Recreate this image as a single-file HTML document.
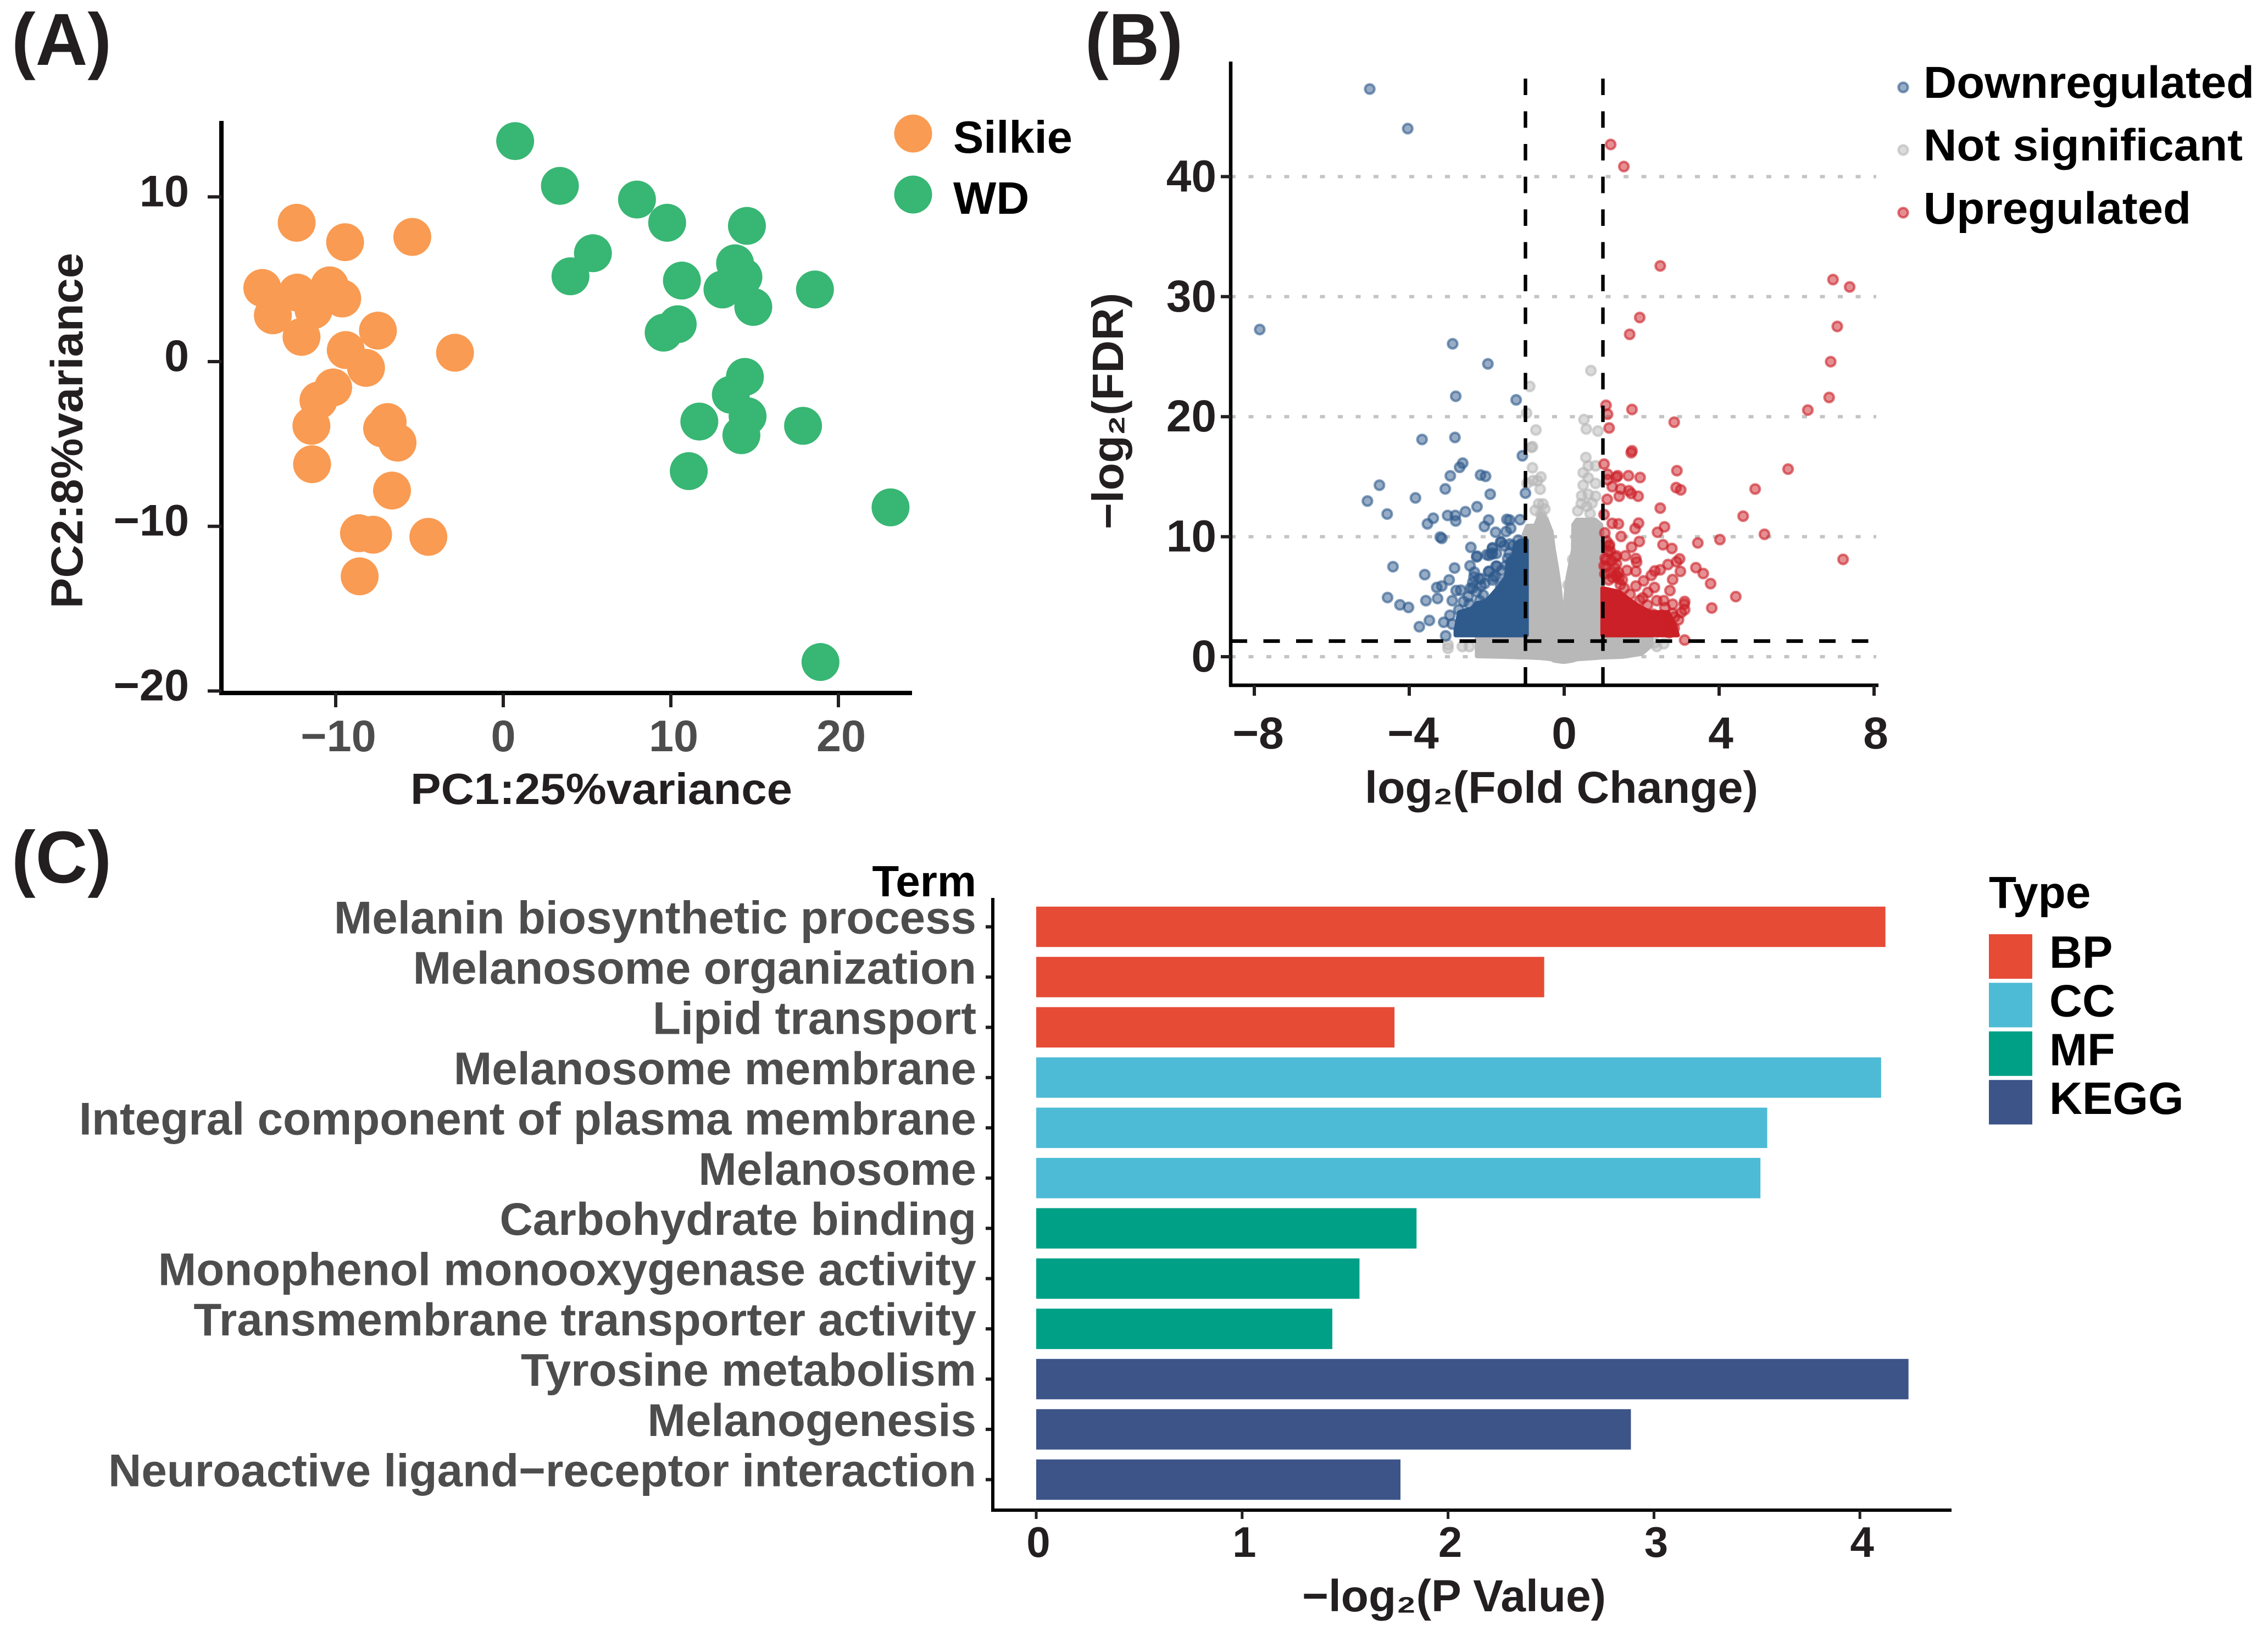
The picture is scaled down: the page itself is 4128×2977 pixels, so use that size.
<!DOCTYPE html>
<html lang="en">
<head>
<meta charset="utf-8">
<title>PCA, volcano plot and enrichment bar chart</title>
<style>
  html,body{margin:0;padding:0;background:#fff;}
  svg{display:block;}
  text{font-family:"Liberation Sans",Arial,sans-serif;font-weight:700;}
</style>
</head>
<body>
<svg id="figure" xmlns="http://www.w3.org/2000/svg" width="4128" height="2977" viewBox="0 0 4128 2977">
  <rect x="0" y="0" width="4128" height="2977" fill="#ffffff"/>

  <text x="21" y="118" font-size="134" textLength="182" lengthAdjust="spacingAndGlyphs" fill="#231f20">(A)</text>
  <text x="1975" y="118" font-size="134" textLength="178" lengthAdjust="spacingAndGlyphs" fill="#231f20">(B)</text>
  <text x="21" y="1606" font-size="134" textLength="182" lengthAdjust="spacingAndGlyphs" fill="#231f20">(C)</text>

  <g id="panelA"></g>
  <text x="747" y="1463" font-size="80" textLength="695" lengthAdjust="spacingAndGlyphs" fill="#231f20">PC1:25%variance</text>
  <text transform="translate(150,1107) rotate(-90)" font-size="82" textLength="647" lengthAdjust="spacingAndGlyphs" fill="#231f20">PC2:8%variance</text>
  <circle cx="1662" cy="243" r="34.5" fill="#f99b52"/>
  <circle cx="1662" cy="354" r="34.5" fill="#38b673"/>
  <text x="1735" y="278" font-size="83" fill="#000">Silkie</text>
  <text x="1735" y="389" font-size="83" fill="#000">WD</text>

  <g id="panelB"></g>
  <text x="2484" y="1461" font-size="82" textLength="716" lengthAdjust="spacingAndGlyphs" fill="#231f20">log₂(Fold Change)</text>
  <text transform="translate(2044,963) rotate(-90)" font-size="80" textLength="430" lengthAdjust="spacingAndGlyphs" fill="#231f20">−log₂(FDR)</text>
  <circle cx="3464" cy="159" r="8.5" fill="#2f5a8c" fill-opacity=".5" stroke="#2f5a8c" stroke-opacity=".6" stroke-width="4.5"/>
  <circle cx="3464" cy="273" r="8.5" fill="#b8b8b8" fill-opacity=".5" stroke="#b8b8b8" stroke-opacity=".6" stroke-width="4.5"/>
  <circle cx="3464" cy="387" r="8.5" fill="#cb2027" fill-opacity=".5" stroke="#cb2027" stroke-opacity=".6" stroke-width="4.5"/>
  <text x="3501" y="178" font-size="82" textLength="602" lengthAdjust="spacingAndGlyphs" fill="#000">Downregulated</text>
  <text x="3501" y="292" font-size="82" textLength="581" lengthAdjust="spacingAndGlyphs" fill="#000">Not significant</text>
  <text x="3501" y="407" font-size="82" textLength="487" lengthAdjust="spacingAndGlyphs" fill="#000">Upregulated</text>

  <g id="panelC"></g>
  <text x="1777" y="1631" font-size="80" text-anchor="end" fill="#000">Term</text>
  <text x="2370" y="2932" font-size="82" textLength="553" lengthAdjust="spacingAndGlyphs" fill="#231f20">−log₂(P Value)</text>
  <text x="3620" y="1652" font-size="82" fill="#000">Type</text>
  <g id="typeLegend"></g>
</svg>

<script>
/* ---------- Panel A data: PCA scores ---------- */
const silkiePC1 = [-12.33,-9.44,-5.43,-14.38,-12.29,-10.36,-9.61,-13.75,-11.32,-12.04,-7.48,-9.40,-8.19,-2.88,-10.15,-11.03,-11.45,-11.41,-6.90,-7.23,-6.31,-6.64,-8.61,-7.77,-4.47,-8.57];
const silkiePC2 = [8.43,7.25,7.57,4.47,4.19,4.63,3.83,2.81,3.13,1.50,1.88,0.70,-0.38,0.54,-1.57,-2.36,-3.90,-6.23,-3.67,-4.06,-4.92,-7.83,-10.42,-10.51,-10.64,-13.04];
const wdPC1 = [0.71,3.38,7.98,9.78,14.54,5.35,4.01,10.66,13.83,14.33,13.08,14.92,18.60,10.41,9.57,14.42,13.58,14.58,11.70,14.21,17.89,11.07,23.11,18.93];
const wdPC2 = [13.39,10.67,9.84,8.43,8.24,6.58,5.18,4.92,5.97,5.14,4.38,3.32,4.38,2.27,1.76,-0.93,-2.01,-3.32,-3.64,-4.47,-3.90,-6.65,-8.85,-18.24];
const pcaXTicks = [-10,0,10,20];
const pcaYTicks = [10,0,-10,-20];

/* ---------- Panel B data: volcano points as [log2FC, -log2FDR] ---------- */
const downPoints = [[-5.02,47.3],[-4.04,44.0],[-7.86,27.26],[-2.88,26.07],[-1.97,24.4],[-2.80,21.7],[-1.24,21.4],[-3.67,18.1],[-2.82,18.27],[-1.08,16.74],[-2.62,16.13],[-2.70,15.78],[-2.94,15.07],[-2.16,15.14],[-2.03,15.03],[-4.77,14.29],[-3.07,13.98],[-1.91,13.54],[-1.0,13.63],[-3.84,13.23],[-5.08,12.97],[-2.25,12.5],[-2.55,12.08],[-3.01,11.77],[-2.81,11.77],[-2.80,11.31],[-3.38,11.54],[-3.53,11.07],[-4.57,11.89],[-1.95,11.39],[-2.06,10.85],[-1.48,11.44],[-1.41,11.39],[-1.14,11.42],[-1.38,10.7],[-1.5,10.43],[-1.77,10.37],[-3.2,9.97],[-3.16,9.86],[-1.64,9.56],[-2.41,9.11],[-1.85,9.02],[-2.25,8.38],[-1.94,8.44],[-1.85,8.56],[-1.55,9.25],[-1.32,9.28],[-1.19,9.71],[-1.14,9.25],[-4.42,7.5],[-3.6,6.84],[-2.83,7.39],[-2.43,7.57],[-1.74,7.54],[-1.94,7.11],[-2.32,7.04],[-2.97,6.4],[-3.16,5.89],[-3.29,5.77],[-2.79,5.51],[-2.67,5.54],[-4.56,4.93],[-4.24,4.32],[-4.02,4.11],[-3.57,4.67],[-3.27,4.85],[-2.89,4.67],[-2.95,3.45],[-3.48,3.02],[-3.74,2.5],[-3.11,2.87],[-2.89,2.72],[-3.06,1.74],[-2.36,6.2],[-2.14,6.5],[-2.36,5.74],[-2.18,4.67],[-1.77,6.73],[-1.46,8.18],[-1.37,7.88],[-1.28,8.34],[-1.41,6.66],[-1.64,5.89],[-2.09,5.13],[-2.72,3.91],[-1.50,7.6],[-1.62,7.2],[-2.05,6.1],[-1.85,6.4],[-2.48,5.0],[-1.25,7.4],[-1.42,8.6],[-1.85,9.08],[-1.63,9.54],[-1.88,8.62],[-2.26,8.32],[-1.41,9.39],[-2.33,6.64],[-2.2,6.49],[-1.95,7.1],[-1.82,6.64],[-1.5,6.33],[-2.42,5.72],[-2.26,5.42],[-1.76,7.55],[-1.31,7.86],[-2.0,8.5],[-1.75,8.6],[-2.15,5.9],[-1.1,8.0],[-1.15,7.0],[-1.2,6.3],[-2.6,4.6],[-2.45,4.4]];
const upPoints = [[1.2,42.68],[1.54,40.84],[2.48,32.56],[6.94,31.42],[7.37,30.81],[1.95,28.26],[1.69,26.86],[7.05,27.52],[6.88,24.58],[6.84,21.6],[6.29,20.55],[1.08,20.95],[1.12,20.2],[1.75,20.6],[2.84,19.54],[1.16,19.06],[1.75,17.16],[1.73,17.0],[1.03,16.05],[2.91,15.5],[5.78,15.63],[1.38,15.08],[1.66,15.08],[1.96,14.93],[1.35,14.97],[1.12,15.2],[1.12,14.75],[4.93,13.97],[2.89,14.09],[3.01,13.9],[1.24,14.17],[1.46,13.98],[1.67,13.83],[1.73,13.6],[1.42,13.37],[1.91,13.37],[1.11,13.11],[2.48,12.38],[4.62,11.71],[1.03,11.85],[1.24,11.11],[1.40,11.07],[1.92,11.13],[1.83,10.67],[2.59,10.82],[2.41,10.37],[5.17,10.2],[1.05,10.32],[1.47,10.02],[1.94,9.6],[4.02,9.76],[3.45,9.48],[2.55,9.33],[2.78,9.02],[1.74,9.13],[1.17,9.33],[7.2,8.11],[1.35,8.41],[1.58,8.41],[1.85,8.18],[1.87,7.88],[2.98,8.15],[2.9,7.91],[2.68,7.68],[2.48,7.24],[2.34,7.15],[2.25,6.78],[3.0,7.11],[3.4,7.42],[3.59,6.93],[3.78,6.09],[2.8,6.43],[2.05,6.32],[2.33,5.77],[2.73,5.51],[4.43,5.01],[3.81,4.06],[3.11,4.6],[3.1,4.37],[3.11,3.91],[3.02,3.68],[2.95,3.07],[3.11,1.39],[2.8,4.37],[2.57,4.67],[2.39,4.67],[2.16,5.36],[2.03,4.9],[1.85,5.89],[1.62,7.19],[1.85,7.11],[1.35,6.73],[1.35,7.73],[1.08,8.03],[1.03,7.57],[2.84,2.38],[2.71,2.0],[2.3,3.53],[2.8,3.6],[2.52,3.45],[2.6,2.84],[1.12,8.8],[1.2,7.0],[1.5,6.4],[1.15,6.4],[1.7,5.2],[1.16,9.2],[1.32,8.3],[1.19,8.8],[1.35,6.8],[1.41,6.5],[1.06,8.2],[1.09,7.5],[1.3,7.4],[1.4,7.0],[1.25,6.6],[1.1,9.6],[1.22,8.0],[1.05,6.9],[1.55,5.7],[1.45,6.0],[1.95,4.7],[2.15,4.3],[2.6,4.1],[2.85,3.3]];
const neutralPoints = [[0.69,23.84],[-0.89,22.52],[-0.97,20.3],[0.51,19.76],[0.57,18.97],[0.87,18.8],[-0.73,18.89],[-0.85,17.44],[-0.82,17.5],[0.56,16.6],[0.81,15.9],[0.62,15.9],[-0.82,15.74],[-0.6,14.98],[0.49,15.33],[0.62,14.9],[-0.81,14.67],[-0.69,14.67],[-0.96,14.44],[0.49,14.29],[0.81,14.44],[-0.62,13.95],[0.62,13.53],[0.81,13.37],[-0.66,12.73],[-0.55,12.73],[0.44,12.76],[0.58,12.53],[0.35,12.15],[-0.6,11.85],[-0.55,11.47],[0.67,11.92],[-3,1.0],[-3,0.7],[-2.63,0.85],[-2.45,0.85],[2.34,1.16],[2.57,1.08],[2.39,0.85],[0.22,8.1],[0.1,5.97],[-0.75,12.2],[0.72,12.8],[-0.5,12.3],[0.45,13.4]];

/* The overplotted cores are too dense to resolve individual points, so each is
   read from the picture as an envelope: fold change, upper FDR and lower FDR. */
const neutralCoreFc = [-2.25,-1.5,-1.05,-1.04,-0.95,-0.75,-0.62,-0.45,-0.33,-0.27,-0.19,-0.12,-0.075,0,0.04,0.09,0.14,0.23,0.24,0.33,0.8,0.95,0.98,1.0,1.5,2.0,2.25];
const neutralCoreTop = [1.62,1.62,1.62,10.2,10.9,10.9,11.9,11.4,10.4,8.9,7.4,5.87,4.35,2.84,5.1,6.6,7.4,8.9,11.0,11.4,11.4,11.0,10.4,1.65,1.65,1.65,1.5];
const neutralCoreBottom = [0.05,0,-0.05,-0.05,-0.05,-0.08,-0.1,-0.15,-0.2,-0.3,-0.35,-0.38,-0.4,-0.42,-0.4,-0.38,-0.35,-0.3,-0.28,-0.2,-0.1,-0.05,-0.05,-0.05,0,0.25,0.95];
const downCoreFc = [-2.80,-2.71,-2.39,-2.26,-2.01,-1.69,-1.57,-1.5,-1.45,-1.3,-1.27,-1.15,-0.97];
const downCoreTop = [2.2,3.7,4.0,4.45,4.6,5.8,6.3,6.6,8.0,8.4,9.3,9.65,9.7];
const downCoreBottom = [1.8,1.8,1.8,1.8,1.8,1.8,1.8,1.8,1.8,1.8,1.8,1.8,1.8];
const upCoreFc = [0.99,1.41,1.66,1.92,2.23,2.68,2.83,2.93];
const upCoreTop = [5.7,5.4,4.8,4.2,3.7,3.7,2.8,1.8];
const upCoreBottom = [1.8,1.8,1.8,1.8,1.8,1.8,1.8,1.8];

const volcanoXTicks = [-8,-4,0,4,8];
const volcanoYTicks = [40,30,20,10,0];
const volcanoFoldThresholds = [-1,1];
const volcanoFdrThreshold = 1.3;

/* ---------- Panel C data ---------- */
const termLabels = ["Melanin biosynthetic process","Melanosome organization","Lipid transport","Melanosome membrane","Integral component of plasma membrane","Melanosome","Carbohydrate binding","Monophenol monooxygenase activity","Transmembrane transporter activity","Tyrosine metabolism","Melanogenesis","Neuroactive ligand−receptor interaction"];
const termValues = [4.124,2.467,1.74,4.103,3.55,3.517,1.847,1.57,1.438,4.236,2.888,1.769];
const termTypes = ["BP","BP","BP","CC","CC","CC","MF","MF","MF","KEGG","KEGG","KEGG"];
const typeNames = ["BP","CC","MF","KEGG"];
const enrichXTicks = [0,1,2,3,4];

/* ---------- Scales ---------- */
const xA = v => 916 + 30.5 * v;
const yA = v => 658 - 29.97 * v;
const xB = v => 2847 + 70.5 * v;
const yB = v => 1195 - 21.84 * v;
const xC = v => 1886 + 374.8 * v;
const yC = i => 1686.5 + 91.45 * i;
const typeColor = t => ({BP:"#e64b35",CC:"#4dbbd5",MF:"#00a087",KEGG:"#3c5488"})[t];

const NS = "http://www.w3.org/2000/svg";
function make(parent, tag, attrs, txt) {
  const el = document.createElementNS(NS, tag);
  for (const k in attrs) el.setAttribute(k, attrs[k]);
  if (txt !== undefined) el.textContent = txt;
  parent.appendChild(el);
  return el;
}
const fmt = v => String(v).replace("-", "−");
const A = document.getElementById("panelA");
const B = document.getElementById("panelB");
const C = document.getElementById("panelC");
let el;

/* ---------- Panel A ---------- */
silkiePC1.forEach((v, i) => {
  el = make(A, "circle", {cx: xA(v), cy: yA(silkiePC2[i]), r: 34.5, fill: "#f99b52"});
  
  
});
wdPC1.forEach((v, i) => {
  el = make(A, "circle", {cx: xA(v), cy: yA(wdPC2[i]), r: 34.5, fill: "#38b673"});
  
  
});
el = make(A, "line", {x1: 403, y1: 220, x2: 403, y2: 1265, stroke: "#000", "stroke-width": 8});


el = make(A, "line", {x1: 399, y1: 1261, x2: 1660, y2: 1261, stroke: "#000", "stroke-width": 8});


pcaYTicks.forEach(v => {
  el = make(A, "line", {x1: 378, y1: yA(v), x2: 403, y2: yA(v), stroke: "#231f20", "stroke-width": 6});
  
  
  el = make(A, "text", {x: 344, y: yA(v) + 17, "font-size": 81, "text-anchor": "end", fill: "#231f20"}, fmt(v));
  
  
});
pcaXTicks.forEach(v => {
  el = make(A, "line", {x1: xA(v), y1: 1261, x2: xA(v), y2: 1287, stroke: "#231f20", "stroke-width": 6});
  
  
  el = make(A, "text", {x: xA(v) + (v === 0 ? 0 : 5), y: 1367, "font-size": 81, "text-anchor": "middle", fill: "#4d4d4d"}, fmt(v));
  
  
});

/* ---------- Panel B ---------- */
volcanoYTicks.forEach(v => {
  el = make(B, "line", {x1: 2240, y1: yB(v), x2: 3415, y2: yB(v), stroke: "#c4c4c4", "stroke-width": 6, "stroke-dasharray": "9 23.5"});
  
  
});
function coreArea(fc, top, bottom, color, name) {
  const upper = fc.map((v, i) => xB(v) + "," + yB(top[i]));
  const lower = fc.map((v, i) => xB(v) + "," + yB(bottom[i])).reverse();
  const poly = make(B, "polygon", {points: upper.concat(lower).join(" "), fill: color, stroke: color, "stroke-width": 8, "stroke-linejoin": "round"});
  
  
}
coreArea(neutralCoreFc, neutralCoreTop, neutralCoreBottom, "#b8b8b8", "not-significant-dense-core");
coreArea(downCoreFc, downCoreTop, downCoreBottom, "#2f5a8c", "downregulated-dense-core");
coreArea(upCoreFc, upCoreTop, upCoreBottom, "#cb2027", "upregulated-dense-core");
function markerAttrs(p, color) {
  return {cx: xB(p[0]), cy: yB(p[1]), r: 8.5, fill: color, "fill-opacity": 0.5, stroke: color, "stroke-opacity": 0.6, "stroke-width": 4.5};
}
neutralPoints.forEach(p => {
  el = make(B, "circle", markerAttrs(p, "#b8b8b8"));
  
  
});
downPoints.forEach(p => {
  el = make(B, "circle", markerAttrs(p, "#2f5a8c"));
  
  
});
upPoints.forEach(p => {
  el = make(B, "circle", markerAttrs(p, "#cb2027"));
  
  
});
volcanoFoldThresholds.forEach(v => {
  el = make(B, "line", {x1: xB(v), y1: 143, x2: xB(v), y2: 1247, stroke: "#000", "stroke-width": 6.4, "stroke-dasharray": "30 29.5"});
  
  
});
el = make(B, "line", {x1: 2240, y1: yB(volcanoFdrThreshold), x2: 3415, y2: yB(volcanoFdrThreshold), stroke: "#000", "stroke-width": 6.6, "stroke-dasharray": "30 29.5"});


el = make(B, "line", {x1: 2240, y1: 112, x2: 2240, y2: 1250, stroke: "#000", "stroke-width": 6.5});


el = make(B, "line", {x1: 2237, y1: 1247, x2: 3419, y2: 1247, stroke: "#000", "stroke-width": 6.5});


volcanoYTicks.forEach(v => {
  el = make(B, "line", {x1: 2222, y1: yB(v), x2: 2240, y2: yB(v), stroke: "#231f20", "stroke-width": 6});
  
  
  el = make(B, "text", {x: 2214, y: yB(v) + 27, "font-size": 82, "text-anchor": "end", fill: "#231f20"}, fmt(v));
  
  
});
volcanoXTicks.forEach(v => {
  el = make(B, "line", {x1: xB(v), y1: 1247, x2: xB(v), y2: 1266, stroke: "#231f20", "stroke-width": 6});
  
  
  el = make(B, "text", {x: xB(v) + (v === 0 ? 0 : (v > 0 ? 3 : 7)), y: 1362, "font-size": 82, "text-anchor": "middle", fill: "#231f20"}, fmt(v));
  
  
});

/* ---------- Panel C ---------- */
termValues.forEach((v, i) => {
  el = make(C, "rect", {x: xC(0), y: yC(i) - 36.75, width: xC(v) - xC(0), height: 73.5, fill: typeColor(termTypes[i])});
  
  
  el = make(C, "line", {x1: 1794, y1: yC(i), x2: 1807, y2: yC(i), stroke: "#231f20", "stroke-width": 6});
  
  
  el = make(C, "text", {x: 1777, y: yC(i) + 12, "font-size": 83.5, "text-anchor": "end", fill: "#4d4d4d"}, termLabels[i]);
  
  
});
el = make(C, "line", {x1: 1807, y1: 1634, x2: 1807, y2: 2751, stroke: "#000", "stroke-width": 6});


el = make(C, "line", {x1: 1804, y1: 2748, x2: 3552, y2: 2748, stroke: "#000", "stroke-width": 6});


enrichXTicks.forEach(v => {
  el = make(C, "line", {x1: xC(v), y1: 2748, x2: xC(v), y2: 2764, stroke: "#231f20", "stroke-width": 5});
  
  
  el = make(C, "text", {x: xC(v) + 4, y: 2833, "font-size": 78, "text-anchor": "middle", fill: "#231f20"}, fmt(v));
  
  
});
const legendGroup = document.getElementById("typeLegend");
typeNames.forEach((t, i) => {
  el = make(legendGroup, "rect", {x: 3620, y: 1700 + 88.4 * i, width: 79, height: 81, fill: typeColor(t)});
  
  
  el = make(legendGroup, "text", {x: 3730, y: 1761 + 88.7 * i, "font-size": 83, fill: "#000"}, t);
  
  
});
</script>
</body>
</html>
